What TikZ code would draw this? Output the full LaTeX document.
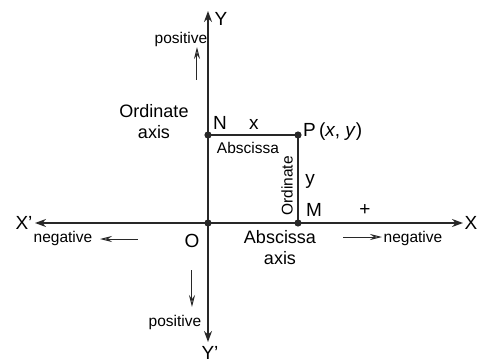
\documentclass[tikz,border=0pt]{standalone}
\usepackage{fontspec}
\setmainfont{Liberation Sans}
\usetikzlibrary{arrows.meta}
\definecolor{linecolor}{RGB}{40,40,40}

\begin{document}
\begin{tikzpicture}[x=1pt,y=1pt,
    axis/.style={linecolor, line width=1.9pt},
    side/.style={linecolor, line width=1.6pt},
    hint/.style={linecolor, line width=1pt, -{Stealth[open,length=12pt,width=6pt,inset=4pt]}},
    letter/.style={font=\fontsize{19}{22}\selectfont, inner sep=0pt},
    big/.style={font=\fontsize{18}{21}\selectfont, inner sep=0pt, align=center},
    small/.style={font=\fontsize{15.5}{18}\selectfont, inner sep=0pt}]
    \useasboundingbox (-208,-139) rectangle (269,223);
    % corners of the rectangle
    \coordinate (O) at (0,0);
    \coordinate (N) at (0,88);
    \coordinate (P) at (90,88);
    \coordinate (M) at (90,0);
    % ends of the axes
    \coordinate (yTop) at (0,212);
    \coordinate (yBot) at (0,-119);
    \coordinate (xLeft) at (-173,0);
    \coordinate (xRight) at (255,0);
    \draw[axis, {Stealth[length=11pt,width=8pt]}-{Stealth[length=11pt,width=8pt]}] (xLeft) -- (xRight);
    \draw[axis, {Stealth[length=11pt,width=8pt]}-{Stealth[length=11pt,width=8pt]}] (yBot) -- (yTop);
    \draw[side] (N) -- (P) -- (M);
    \foreach \p in {O,N,P,M}{
      \fill[linecolor] (\p) circle (3.6pt);
    }
    % axis names
    \node[letter] (lblY) at (13,204) {Y};
    \node[letter] (lblYb) at (2,-129.5) {Y’};
    \node[letter] (lblXb) at (-184,0) {X’};
    \node[letter] (lblX) at (263,0) {X};
    \node[letter] (lblO) at (-16,-18) {O};
    \node[letter] (lblN) at (12,100) {N};
    \node[letter] (lblx) at (46,99) {x};
    \node[letter] (lbly) at (102,42) {y};
    \node[letter] (lblM) at (106,13) {M};
    \node[letter] (lblPlus) at (157,13) {+};
    \node[letter, anchor=west] (lblP) at (95,91) {P\,(\textit{x}, \textit{y})};
    % axis captions
    \node[big] (ordAxis) at (-54,101) {Ordinate\\axis};
    \node[big] (absAxis) at (72,-25) {Abscissa\\axis};
    \node[small] (absSide) at (40,75) {Abscissa};
    \node[small, rotate=90] (ordSide) at (79,37) {Ordinate};
    % directions
    \node[small] (posUp) at (-27,184) {positive};
    \node[small] (posDown) at (-33,-99) {positive};
    \node[small] (negLeft) at (-145,-15) {negative};
    \node[small] (negRight) at (205,-15) {negative};
    \coordinate (upFrom) at (-11,143);
    \coordinate (upTo) at (-11,176);
    \coordinate (downFrom) at (-16,-47);
    \coordinate (downTo) at (-16,-84);
    \coordinate (leftFrom) at (-70,-16);
    \coordinate (leftTo) at (-108,-16);
    \coordinate (rightFrom) at (135,-14);
    \coordinate (rightTo) at (174,-14);
    \draw[hint] (upFrom) -- (upTo);
    \draw[hint] (downFrom) -- (downTo);
    \draw[hint] (leftFrom) -- (leftTo);
    \draw[hint] (rightFrom) -- (rightTo);
\end{tikzpicture}
\end{document}
